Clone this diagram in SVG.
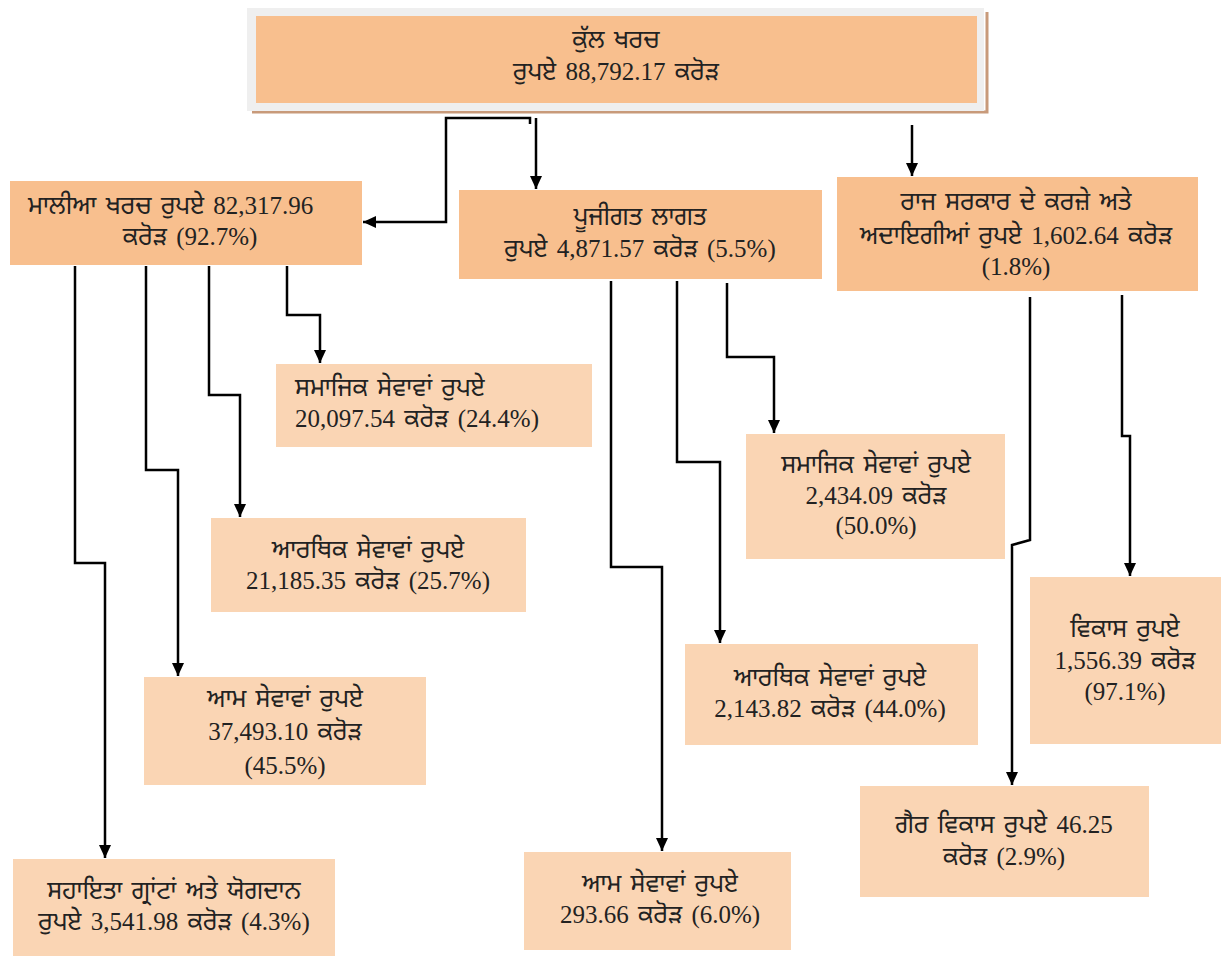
<svg xmlns="http://www.w3.org/2000/svg" width="1223" height="956" viewBox="0 0 1223 956">
<style>
.top{fill:#F8BF8E}
.sub{fill:#FAD5B4}
.t{font-family:"Liberation Serif","Noto Sans Gurmukhi","Noto Serif Gurmukhi","Lohit Gurmukhi",serif;font-size:25px;fill:#222;word-spacing:3px}
.c{text-anchor:middle}
.ln{fill:none;stroke:#000;stroke-width:2.5;marker-end:url(#ah)}
</style>
<defs>
<marker id="ah" markerUnits="userSpaceOnUse" markerWidth="14" markerHeight="14" refX="13" refY="6" orient="auto">
<path d="M0,0 L13,6 L0,12 z" fill="#000"/>
</marker>
</defs>
<rect width="1223" height="956" fill="#fff"/>
<g id="connectors">
<path class="ln" d="M530,124 V118 H446 V222 H363"/>
<path class="ln" d="M536,118 V189"/>
<path class="ln" d="M912,125 V176"/>
<path class="ln" d="M75,266 V563 H105 V858"/>
<path class="ln" d="M146,266 V470 H178 V676"/>
<path class="ln" d="M209,266 V395 H240 V517"/>
<path class="ln" d="M287,266 V315 H320 V363"/>
<path class="ln" d="M611,281 V567 H662 V851"/>
<path class="ln" d="M677,281 V462 H720 V643"/>
<path class="ln" d="M727,283 V357 H774 V433"/>
<path class="ln" d="M1030,297 V540 L1012,545 V785"/>
<path class="ln" d="M1122,295 V436 H1130 V576"/>
</g>
<g id="n-total">
<path d="M252,112 H987 V12" fill="none" stroke="#C89A7A" stroke-width="3"/>
<rect x="247" y="8" width="737" height="103" fill="#EFEFEF"/>
<rect x="256" y="16" width="721" height="87" class="top"/>
<text class="t c" x="616" y="48">ਕੁੱਲ ਖਰਚ</text>
<text class="t c" x="616" y="80">ਰੁਪਏ 88,792.17 ਕਰੋੜ</text>
</g>
<g id="n-revenue">
<rect x="10" y="181" width="352" height="84" class="top"/>
<text class="t" x="28" y="214">ਮਾਲੀਆ ਖਰਚ ਰੁਪਏ 82,317.96</text>
<text class="t c" x="190" y="245">ਕਰੋੜ (92.7%)</text>
</g>
<g id="n-capital">
<rect x="459" y="190" width="363" height="89" class="top"/>
<text class="t c" x="640" y="225">ਪੂਜੀਗਤ ਲਾਗਤ</text>
<text class="t c" x="640" y="257">ਰੁਪਏ 4,871.57 ਕਰੋੜ (5.5%)</text>
</g>
<g id="n-loans">
<rect x="837" y="177" width="361" height="114" class="top"/>
<text class="t c" x="1016" y="210">ਰਾਜ ਸਰਕਾਰ ਦੇ ਕਰਜ਼ੇ ਅਤੇ</text>
<text class="t c" x="1016" y="244">ਅਦਾਇਗੀਆਂ ਰੁਪਏ 1,602.64 ਕਰੋੜ</text>
<text class="t c" x="1016" y="275">(1.8%)</text>
</g>
<g id="n-rev-social">
<rect x="276" y="364" width="316" height="83" class="sub"/>
<text class="t" x="295" y="396">ਸਮਾਜਿਕ ਸੇਵਾਵਾਂ ਰੁਪਏ</text>
<text class="t" x="295" y="427">20,097.54 ਕਰੋੜ (24.4%)</text>
</g>
<g id="n-rev-economic">
<rect x="211" y="518" width="315" height="94" class="sub"/>
<text class="t c" x="368" y="558">ਆਰਥਿਕ ਸੇਵਾਵਾਂ ਰੁਪਏ</text>
<text class="t c" x="368" y="589">21,185.35 ਕਰੋੜ (25.7%)</text>
</g>
<g id="n-rev-general">
<rect x="144" y="677" width="282" height="108" class="sub"/>
<text class="t c" x="285" y="707">ਆਮ ਸੇਵਾਵਾਂ ਰੁਪਏ</text>
<text class="t c" x="285" y="740">37,493.10 ਕਰੋੜ</text>
<text class="t c" x="285" y="774">(45.5%)</text>
</g>
<g id="n-rev-grants">
<rect x="13" y="859" width="322" height="97" class="sub"/>
<text class="t c" x="174" y="899">ਸਹਾਇਤਾ ਗ੍ਰਾਂਟਾਂ ਅਤੇ ਯੋਗਦਾਨ</text>
<text class="t c" x="174" y="930">ਰੁਪਏ 3,541.98 ਕਰੋੜ (4.3%)</text>
</g>
<g id="n-cap-social">
<rect x="746" y="434" width="259" height="125" class="sub"/>
<text class="t c" x="876" y="473">ਸਮਾਜਿਕ ਸੇਵਾਵਾਂ ਰੁਪਏ</text>
<text class="t c" x="876" y="504">2,434.09 ਕਰੋੜ</text>
<text class="t c" x="876" y="534">(50.0%)</text>
</g>
<g id="n-cap-economic">
<rect x="685" y="644" width="293" height="101" class="sub"/>
<text class="t c" x="830" y="686">ਆਰਥਿਕ ਸੇਵਾਵਾਂ ਰੁਪਏ</text>
<text class="t c" x="830" y="717">2,143.82 ਕਰੋੜ (44.0%)</text>
</g>
<g id="n-cap-general">
<rect x="524" y="852" width="267" height="98" class="sub"/>
<text class="t c" x="660" y="892">ਆਮ ਸੇਵਾਵਾਂ ਰੁਪਏ</text>
<text class="t c" x="660" y="923">293.66 ਕਰੋੜ (6.0%)</text>
</g>
<g id="n-dev">
<rect x="1030" y="577" width="191" height="167" class="sub"/>
<text class="t c" x="1125" y="637">ਵਿਕਾਸ ਰੁਪਏ</text>
<text class="t c" x="1125" y="669">1,556.39 ਕਰੋੜ</text>
<text class="t c" x="1125" y="700">(97.1%)</text>
</g>
<g id="n-nondev">
<rect x="860" y="786" width="289" height="111" class="sub"/>
<text class="t c" x="1004" y="833">ਗੈਰ ਵਿਕਾਸ ਰੁਪਏ 46.25</text>
<text class="t c" x="1004" y="865">ਕਰੋੜ (2.9%)</text>
</g>
</svg>
